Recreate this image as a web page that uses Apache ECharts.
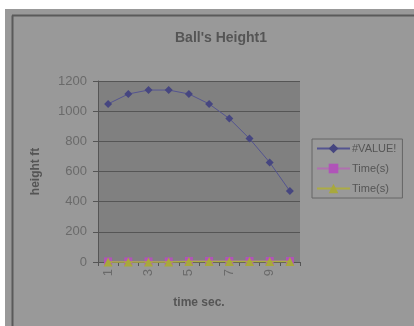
<!DOCTYPE html>
<html>
<head>
<meta charset="utf-8">
<script src="https://cdn.jsdelivr.net/npm/echarts@6/dist/echarts.min.js"></script>
<style>
html, body { margin: 0; padding: 0; background: #fff; }
#chart { width: 414px; height: 326px; }
</style>
</head>
<body>
<div id="chart"></div>
<script>
var times = ['1', '2', '3', '4', '5', '6', '7', '8', '9', '10'];
var heights = [1048, 1114, 1140, 1140, 1114, 1048, 951, 818, 660, 470];
var timeA = [4, 4, 4, 4, 7, 7, 7, 7, 7, 7];
var timeB = [0, 0, 0, 0, 3, 3, 3, 3, 3, 3];
var yTicks = { min: 0, max: 1200, interval: 200 };

var chart = echarts.init(document.getElementById('chart'));
var option = {
    backgroundColor: '#fff',
    animation: false,
    graphic: [
        { type: 'rect', z: -10, shape: { x: 5, y: 9, width: 409, height: 317 }, style: { fill: '#999999' } },
        { type: 'line', z: -5, shape: { x1: 12.5, y1: 15.5, x2: 12.5, y2: 326 }, style: { stroke: '#5a5a5a', lineWidth: 2 } },
        { type: 'line', z: -5, shape: { x1: 12, y1: 15.5, x2: 414, y2: 15.5 }, style: { stroke: '#5a5a5a', lineWidth: 2 } }
    ],
    title: {
        text: "Ball's Height1",
        left: 216,
        top: 26,
        textAlign: 'center',
        textStyle: { color: '#555', fontSize: 14, fontWeight: 'bold', fontFamily: 'Liberation Sans' }
    },
    legend: {
        orient: 'vertical',
        left: 312,
        top: 139,
        width: 98,
        padding: [4, 6, 4, 4],
        itemGap: 9,
        itemWidth: 33,
        itemHeight: 12,
        borderColor: '#666',
        borderWidth: 1,
        textStyle: { color: '#555', fontSize: 11, fontFamily: 'Liberation Sans', padding: [0, 0, 0, -3] },
        data: ['#VALUE!', 'Time(s)', 'Time(s) ']
    },
    grid: { left: 98, top: 81, right: 114, bottom: 64 },
    xAxis: {
        type: 'category',
        data: times,
        boundaryGap: true,
        name: 'time sec.',
        nameLocation: 'middle',
        nameGap: 35,
        nameTextStyle: { color: '#555', fontSize: 12, fontWeight: 'bold', fontFamily: 'Liberation Sans' },
        axisLine: { lineStyle: { color: '#555', width: 1 } },
        axisTick: { show: true, length: 4, interval: 0, alignWithLabel: false, lineStyle: { color: '#555' } },
        axisLabel: {
            interval: 1,
            rotate: 90,
            color: '#6a6a6a',
            fontSize: 13,
            fontFamily: 'Liberation Sans',
            margin: 7
        },
        splitLine: { show: false }
    },
    yAxis: {
        type: 'value',
        min: yTicks.min,
        max: yTicks.max,
        interval: yTicks.interval,
        name: 'height ft',
        nameLocation: 'middle',
        nameGap: 56,
        nameRotate: 90,
        nameTextStyle: { color: '#555', fontSize: 12, fontWeight: 'bold', fontFamily: 'Liberation Sans' },
        axisLine: { show: true, lineStyle: { color: '#555', width: 1 } },
        axisTick: { show: true, length: 5, inside: false, lineStyle: { color: '#555' } },
        axisLabel: { color: '#6a6a6a', fontSize: 13, fontFamily: 'Liberation Sans', margin: 11, formatter: function (v) { return String(v); } },
        splitLine: { show: true, lineStyle: { color: '#555', width: 1 } },
        splitArea: { show: true, areaStyle: { color: ['#808080', '#808080'] } }
    },
    series: [
        {
            name: '#VALUE!',
            type: 'line',
            data: heights,
            symbol: 'diamond',
            symbolSize: 8,
            clip: false,
            z: 2,
            itemStyle: { color: '#464680' },
            lineStyle: { color: '#545490', width: 1 }
        },
        {
            name: 'Time(s)',
            type: 'line',
            data: timeA,
            symbol: 'rect',
            symbolSize: 8,
            clip: false,
            z: 3,
            itemStyle: { color: '#b054b8' },
            lineStyle: { color: '#b070b0', width: 1 }
        },
        {
            name: 'Time(s) ',
            type: 'line',
            data: timeB,
            symbol: 'triangle',
            symbolSize: 9,
            clip: false,
            z: 4,
            itemStyle: { color: '#a8a83c' },
            lineStyle: { color: '#acac44', width: 1.5 }
        }
    ]
};
chart.setOption(option);
</script>
</body>
</html>
